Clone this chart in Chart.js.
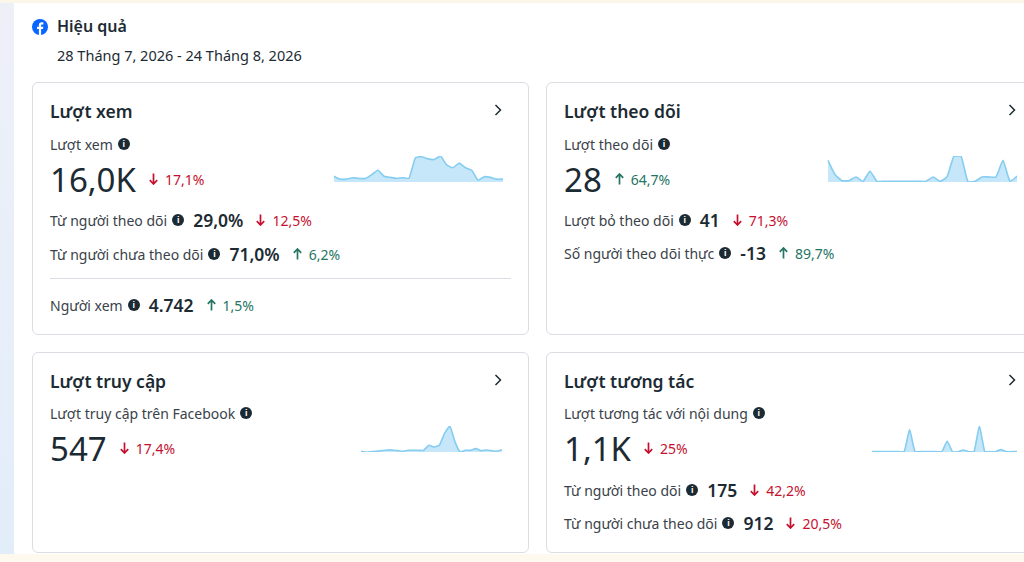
<!DOCTYPE html>
<html lang="vi">
<head>
<meta charset="UTF-8">
<title>Hiệu quả</title>
<script src="https://cdn.jsdelivr.net/npm/chart.js"></script>
<style>
html,body{margin:0;padding:0;}
body{
    width:1024px;height:562px;overflow:hidden;position:relative;
    font-family:"Noto Sans", Roboto, Arial, sans-serif;
    background:#fff;color:#1c2b33;
}
.side{position:absolute;left:0;top:0;width:14px;height:562px;background:linear-gradient(#eef0f8,#e2edfa);}
.topbar{position:absolute;left:0;top:0;width:1024px;height:3px;background:#fbf6ea;}
.bottombar{position:absolute;left:0;top:554px;width:1024px;height:8px;background:#fdf9ee;}
.abs{position:absolute;white-space:nowrap;}
.fb{position:absolute;left:32px;top:19px;width:16px;height:16px;}
.fb svg,.chev svg{display:block;}
.card{position:absolute;border:1px solid #dadde1;border-radius:6px;background:#fff;box-sizing:border-box;}
.title{font-size:17.5px;font-weight:600;color:#1c2b33;}
.row{display:flex;align-items:center;font-size:14px;color:#3a4249;}
.big{font-size:33px;font-weight:400;color:#1c2b33;}
.val{font-size:17.5px;font-weight:600;color:#1c2b33;margin-left:9px;}
.down{color:#c4112f;font-size:14px;margin-left:13px;display:flex;align-items:center;}
.up{color:#257563;font-size:14px;margin-left:13px;display:flex;align-items:center;}
.down svg,.up svg{margin-right:7px;}
.info{display:inline-block;width:12px;height:12px;border-radius:50%;background:#1c2b33;color:#fff;
    font:bold 9px Arial,sans-serif;text-align:center;line-height:12px;margin-left:5px;}
.divider{position:absolute;left:50px;top:278px;width:461px;height:1px;background:#dadde1;}
canvas{position:absolute;}
</style>
</head>
<body>
<div class="side"></div>
<div class="topbar"></div>
<div class="bottombar"></div>

<div class="fb"><svg width="16" height="16" viewBox="0 0 16 16"><circle cx="8" cy="8" r="8" fill="#0866ff"/><path d="M9.1 16V10.1H11L11.3 7.8H9.1V6.5C9.1 5.8 9.4 5.4 10.2 5.4H11.4V3.4C11.1 3.3 10.4 3.3 9.7 3.3C8.1 3.3 6.9 4.2 6.9 6.1V7.8H5V10.1H6.9V16Z" fill="#fff"/></svg></div>
<div class="abs" style="left:57px;top:16px;font-size:16px;font-weight:600;line-height:20px;">Hiệu quả</div>
<div class="abs" style="left:57px;top:45px;font-size:14.5px;line-height:20px;color:#1c2b33;">28 Tháng 7, 2026 - 24 Tháng 8, 2026</div>

<div class="card" style="left:32px;top:82px;width:497px;height:253px;"></div>
<div class="card" style="left:546px;top:82px;width:490px;height:253px;"></div>
<div class="card" style="left:32px;top:352px;width:497px;height:201px;"></div>
<div class="card" style="left:546px;top:352px;width:490px;height:201px;"></div>

<!-- Lượt xem -->
<div class="abs title" style="left:50px;top:99px;line-height:24px;">Lượt xem</div>
<div class="abs chev" style="left:494px;top:104px;" data-chev></div>
<div class="abs row" style="left:50px;top:134px;height:20px;">Lượt xem<span class="info">i</span></div>
<div class="abs row" style="left:50px;top:159px;height:40px;"><span class="big">16,0K</span><span class="down" data-dir="down">17,1%</span></div>
<div class="abs row" style="left:50px;top:208px;height:24px;">Từ người theo dõi<span class="info">i</span><span class="val">29,0%</span><span class="down" data-dir="down">12,5%</span></div>
<div class="abs row" style="left:50px;top:242px;height:24px;">Từ người chưa theo dõi<span class="info">i</span><span class="val">71,0%</span><span class="up" data-dir="up">6,2%</span></div>
<div class="divider"></div>
<div class="abs row" style="left:50px;top:293px;height:24px;">Người xem<span class="info">i</span><span class="val">4.742</span><span class="up" data-dir="up">1,5%</span></div>

<!-- Lượt theo dõi -->
<div class="abs title" style="left:564px;top:99px;line-height:24px;">Lượt theo dõi</div>
<div class="abs chev" style="left:1008px;top:104px;" data-chev></div>
<div class="abs row" style="left:564px;top:134px;height:20px;">Lượt theo dõi<span class="info">i</span></div>
<div class="abs row" style="left:564px;top:159px;height:40px;"><span class="big">28</span><span class="up" data-dir="up">64,7%</span></div>
<div class="abs row" style="left:564px;top:208px;height:24px;">Lượt bỏ theo dõi<span class="info">i</span><span class="val">41</span><span class="down" data-dir="down">71,3%</span></div>
<div class="abs row" style="left:564px;top:241px;height:24px;">Số người theo dõi thực<span class="info">i</span><span class="val">-13</span><span class="up" data-dir="up">89,7%</span></div>

<!-- Lượt truy cập -->
<div class="abs title" style="left:50px;top:369px;line-height:24px;">Lượt truy cập</div>
<div class="abs chev" style="left:494px;top:374px;" data-chev></div>
<div class="abs row" style="left:50px;top:403px;height:20px;">Lượt truy cập trên Facebook<span class="info">i</span></div>
<div class="abs row" style="left:50px;top:428px;height:40px;"><span class="big">547</span><span class="down" data-dir="down">17,4%</span></div>

<!-- Lượt tương tác -->
<div class="abs title" style="left:564px;top:369px;line-height:24px;">Lượt tương tác</div>
<div class="abs chev" style="left:1008px;top:374px;" data-chev></div>
<div class="abs row" style="left:564px;top:403px;height:20px;">Lượt tương tác với nội dung<span class="info">i</span></div>
<div class="abs row" style="left:564px;top:428px;height:40px;"><span class="big">1,1K</span><span class="down" data-dir="down">25%</span></div>
<div class="abs row" style="left:564px;top:478px;height:24px;">Từ người theo dõi<span class="info">i</span><span class="val">175</span><span class="down" data-dir="down">42,2%</span></div>
<div class="abs row" style="left:564px;top:511px;height:24px;">Từ người chưa theo dõi<span class="info">i</span><span class="val">912</span><span class="down" data-dir="down">20,5%</span></div>

<canvas id="viewsChart" width="171" height="28" style="left:333px;top:155px;"></canvas>
<canvas id="followsChart" width="191" height="28" style="left:827px;top:155px;"></canvas>
<canvas id="visitsChart" width="143" height="28" style="left:360px;top:425px;"></canvas>
<canvas id="engageChart" width="147" height="28" style="left:871px;top:425px;"></canvas>

<script>

const days = ['28/7','29/7','30/7','31/7','1/8','2/8','3/8','4/8','5/8','6/8','7/8','8/8','9/8','10/8',
              '11/8','12/8','13/8','14/8','15/8','16/8','17/8','18/8','19/8','20/8','21/8','22/8','23/8','24/8'];

const viewsDaily   = [16,8,8,12,10,10,20,33,16,13,10,12,11,68,71,65,63,73,48,40,53,40,33,5,15,13,8,8];
const followsDaily = [64,22,4,4,15,2,32,2,2,2,2,2,2,2,2,15,2,15,77,77,0,2,15,15,15,64,2,17];
const visitsDaily  = [2,0,1,2,4,6,6,4,2,5,5,5,5,20,15,20,55,77,30,0,5,5,10,4,6,4,2,7];
const engageDaily  = [1,1,1,1,1,1,1,67,1,1,1,1,1,1,32,1,1,6,1,1,78,1,1,1,7,1,1,1];

const lineColor = '#86cdf0';
const fillColor = 'rgba(140,208,244,0.5)';

// arrow + chevron icons
const arrowDown = '<svg width="9" height="12" viewBox="0 0 9 12"><path d="M4.5 0.5V11M0.8 7.2L4.5 11L8.2 7.2" fill="none" stroke="currentColor" stroke-width="1.7"/></svg>';
const arrowUp = '<svg width="9" height="12" viewBox="0 0 9 12"><path d="M4.5 11.5V1M0.8 4.8L4.5 1L8.2 4.8" fill="none" stroke="currentColor" stroke-width="1.7"/></svg>';
document.querySelectorAll('[data-dir]').forEach(el=>{
    el.innerHTML = (el.dataset.dir==='down'?arrowDown:arrowUp) + el.innerHTML;
});
document.querySelectorAll('[data-chev]').forEach(el=>{
    el.innerHTML = '<svg width="8" height="12" viewBox="0 0 8 12"><path d="M1.5 1L6.5 6L1.5 11" fill="none" stroke="#1c2b33" stroke-width="1.5"/></svg>';
});

function sparkline(id, values){
    const ctx = document.getElementById(id).getContext('2d');
    return new Chart(ctx,{
        type:'line',
        data:{
            labels:days,
            datasets:[{
                data:values,
                borderColor:lineColor,
                backgroundColor:fillColor,
                borderWidth:1.6,
                fill:'origin',
                tension:0.15,
                pointRadius:0
            }]
        },
        options:{
            responsive:false,
            animation:false,
            devicePixelRatio:1,
            layout:{padding:{top:1,bottom:1,left:1,right:1}},
            plugins:{legend:{display:false},tooltip:{enabled:false}},
            scales:{
                x:{display:false},
                y:{display:false,min:0,max:Math.max(...values)}
            }
        }
    });
}

sparkline('viewsChart', viewsDaily);
sparkline('followsChart', followsDaily);
sparkline('visitsChart', visitsDaily);
sparkline('engageChart', engageDaily);

</script>
</body>
</html>
